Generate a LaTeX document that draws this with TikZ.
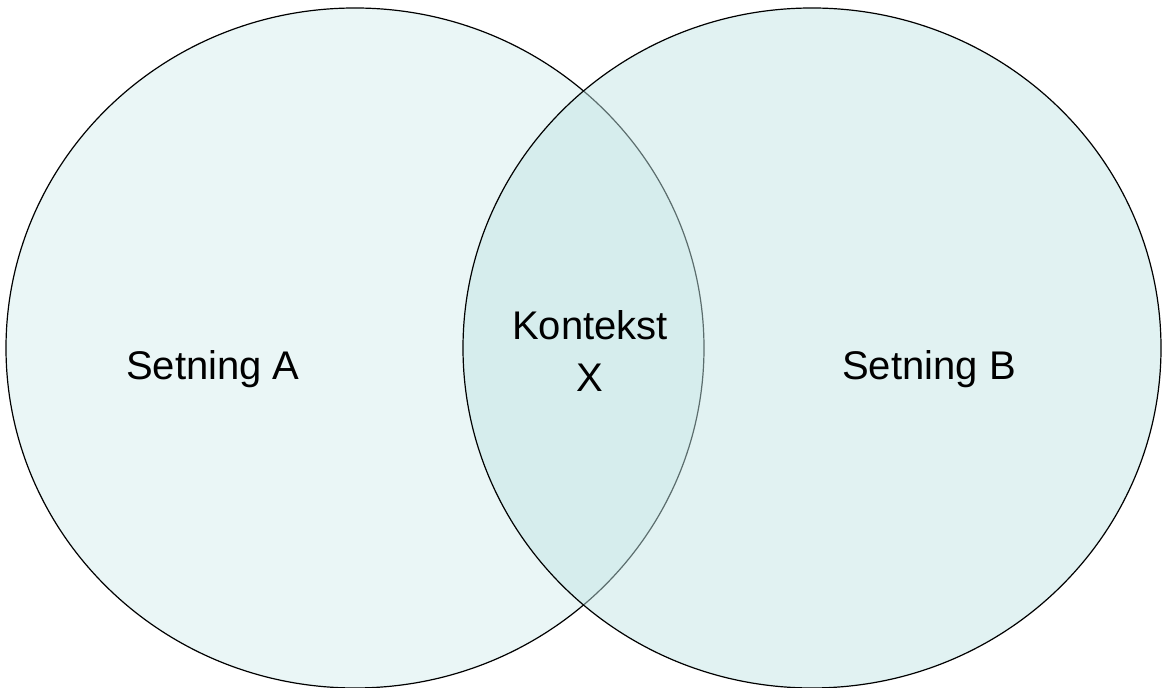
\documentclass[tikz,border=0pt]{standalone}
\usepackage{fontspec}
\setmainfont{Liberation Sans}
\definecolor{setfill}{RGB}{192,228,228}
\tikzset{
  setlabel/.style={font=\fontsize{20pt}{26pt}\selectfont, align=center, text=black},
  setring/.style={draw=black, line width=0.6pt, fill=setfill}
}
\begin{document}
\begin{tikzpicture}[x=0.5pt,y=-0.5pt]
                \useasboundingbox (0,0) rectangle (1162,688);
                %% left set
                \draw[setring,fill opacity=0.33] (355,348) ellipse (349 and 340);
                %% right set
                \draw[setring,fill opacity=0.48] (812,348) ellipse (349 and 340);
                %% labels
                \node[setlabel] (setA) at (213,369) {Setning A};
                \node[setlabel] (setB) at (929,369) {Setning B};
                \node[setlabel] (ctxX) at (590,351) {Kontekst\\X};
            \end{tikzpicture}
\end{document}
